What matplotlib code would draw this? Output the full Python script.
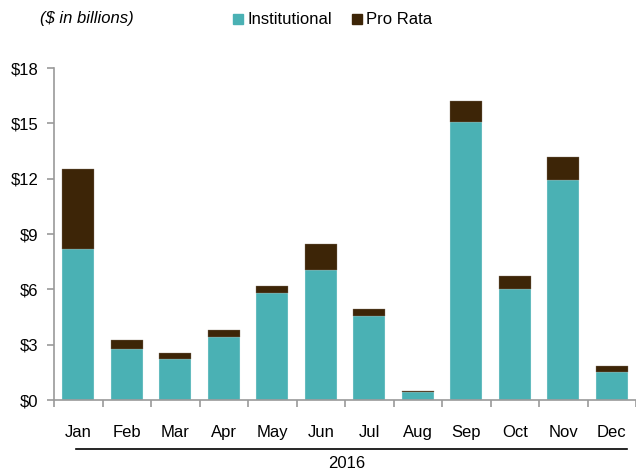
import matplotlib
matplotlib.use('Agg')
import matplotlib.pyplot as plt
from matplotlib.lines import Line2D
from matplotlib.patches import Rectangle
import numpy as np

plt.rcParams['font.family'] = ['Liberation Sans', 'DejaVu Sans']

# DATA
months = ['Jan', 'Feb', 'Mar', 'Apr', 'May', 'Jun',
          'Jul', 'Aug', 'Sep', 'Oct', 'Nov', 'Dec']
institutional = [8.2, 2.77, 2.22, 3.42, 5.8, 7.05, 4.55, 0.43, 15.08, 6.02, 11.93, 1.52]
pro_rata = [4.33, 0.48, 0.33, 0.38, 0.38, 1.41, 0.38, 0.06, 1.12, 0.7, 1.25, 0.32]
yticks = [0, 3, 6, 9, 12, 15, 18]

TEAL = '#4AB1B4'
BROWN = '#3D2507'
GREY = '#9A9A9A'

W, H = 636, 476
fig = plt.figure(figsize=(W / 100, H / 100), dpi=100)
ax = fig.add_axes([54 / W, 1 - 400 / H, 582 / W, 332 / H])

x = np.arange(len(months))
ax.bar(x, institutional, width=0.66, color=TEAL, edgecolor='#E8F4F4', linewidth=0.25)
ax.bar(x, pro_rata, width=0.66, bottom=institutional, color=BROWN,
       edgecolor='#8A7A6A', linewidth=0.25)

ax.set_xlim(-0.5, 11.5)
ax.set_ylim(0, 18)

for side in ['top', 'right']:
    ax.spines[side].set_visible(False)
for side in ['left', 'bottom']:
    ax.spines[side].set_color(GREY)
    ax.spines[side].set_linewidth(1.2)

ax.set_yticks(yticks)
ax.set_yticklabels([f'${v}' for v in yticks], fontsize=12)
ax.set_xticks(x)
ax.set_xticklabels(months, fontsize=12)
ax.tick_params(axis='x', which='major', length=0, pad=18)
ax.set_xticks(np.arange(-0.5, 12, 1), minor=True)
ax.tick_params(axis='x', which='minor', length=5, color=GREY, width=1.2)
ax.tick_params(axis='y', length=5, color=GREY, width=1.2, pad=6)

# group line and year label
fig.add_artist(Line2D([76 / W, 627 / W], [1 - 449 / H, 1 - 449 / H],
                      color='black', linewidth=1.2))
fig.text(347 / W, 1 - 464 / H, '2016', ha='center', va='center', fontsize=12)

# header
fig.text(40 / W, 1 - 19 / H, '($ in billions)', ha='left', va='center',
         fontsize=12, style='italic')
fig.add_artist(Rectangle((233 / W, 1 - 24 / H), 10 / W, 10 / H, color=TEAL,
                         transform=fig.transFigure))
fig.text(247 / W, 1 - 19 / H, 'Institutional', ha='left', va='center', fontsize=12)
fig.add_artist(Rectangle((352 / W, 1 - 24 / H), 10 / W, 10 / H, color=BROWN,
                         transform=fig.transFigure))
fig.text(366 / W, 1 - 19 / H, 'Pro Rata', ha='left', va='center', fontsize=12)

fig.savefig('out.png', dpi=100)
